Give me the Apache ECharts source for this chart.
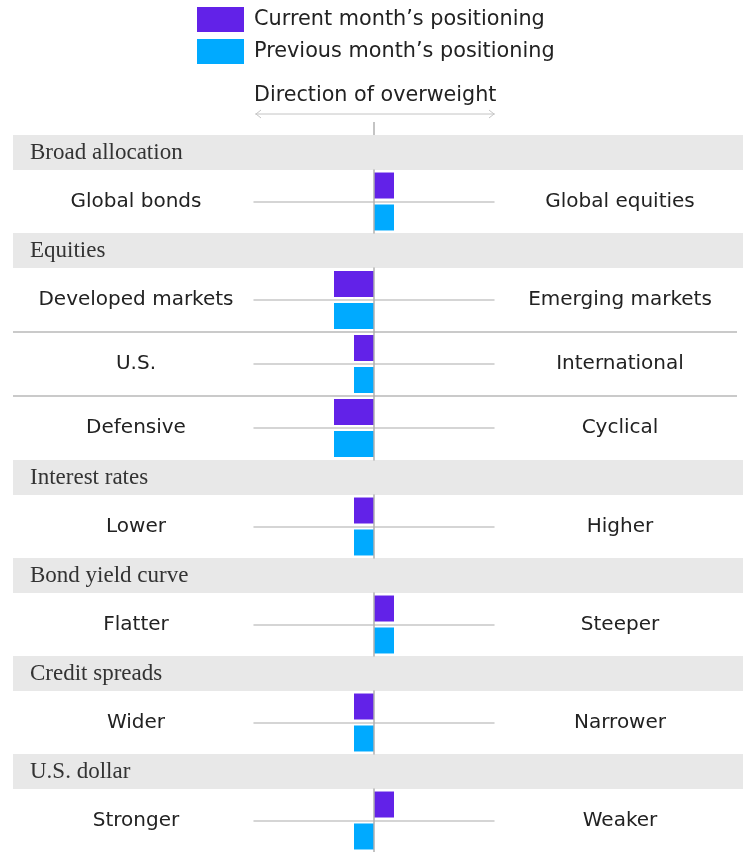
<!DOCTYPE html>
<html>
<head>
<meta charset="utf-8">
<script src="https://cdn.jsdelivr.net/npm/echarts@6/dist/echarts.min.js"></script>
<style>
html,body{margin:0;padding:0;background:#fff}
#main{width:743px;height:852px}
</style>
</head>
<body>
<div id="main"></div>
<script>
// data
var sections = ['Broad allocation', 'Equities', 'Interest rates', 'Bond yield curve', 'Credit spreads', 'U.S. dollar'];
var rowSection = [0, 1, 1, 1, 2, 3, 4, 5];
var leftLabels = ['Global bonds', 'Developed markets', 'U.S.', 'Defensive', 'Lower', 'Flatter', 'Wider', 'Stronger'];
var rightLabels = ['Global equities', 'Emerging markets', 'International', 'Cyclical', 'Higher', 'Steeper', 'Narrower', 'Weaker'];
var current = [1, -2, -1, -2, -1, 1, -1, 1];
var previous = [1, -2, -1, -2, -1, 1, -1, -1];
var seriesNames = ['Current month\u2019s positioning', 'Previous month\u2019s positioning'];

var PURPLE = '#6222e8';
var BLUE = '#00aaff';
var SANS = '"DejaVu Sans", Inter, sans-serif';
var SERIF = '"Liberation Serif", "DejaVu Serif", serif';

var chart = echarts.init(document.getElementById('main'));

var grids = [], xAxes = [], yAxes = [], series = [], graphics = [];
var curY = 135;
var headerH = 35;

// direction arrow under the legend
graphics.push({
  type: 'text', x: 254, y: 96,
  style: { text: 'Direction of overweight', fontSize: 20.7, fontFamily: SANS, fill: '#222', verticalAlign: 'middle' }
});
graphics.push({ type: 'line', shape: { x1: 255, y1: 114, x2: 495, y2: 114 }, style: { stroke: '#c4c4c4', lineWidth: 1 } });
graphics.push({ type: 'polyline', shape: { points: [[261, 110], [256, 114], [261, 118]] }, style: { stroke: '#c4c4c4', lineWidth: 1, fill: null } });
graphics.push({ type: 'polyline', shape: { points: [[489, 110], [494, 114], [489, 118]] }, style: { stroke: '#c4c4c4', lineWidth: 1, fill: null } });
graphics.push({ type: 'line', shape: { x1: 374, y1: 122, x2: 374, y2: 135 }, style: { stroke: '#b0b0b0', lineWidth: 1.5 } });

for (var i = 0; i < leftLabels.length; i++) {
  var sec = rowSection[i];
  if (i === 0 || rowSection[i - 1] !== sec) {
    // section band
    graphics.push({ type: 'rect', shape: { x: 13, y: curY, width: 730, height: headerH }, style: { fill: '#e8e8e8' } });
    graphics.push({
      type: 'text', x: 30, y: curY + headerH / 2,
      style: { text: sections[sec], fontSize: 23, fontFamily: SERIF, fill: '#333', verticalAlign: 'middle' }
    });
    curY += headerH;
  } else {
    // separator between rows of same section
    graphics.push({ type: 'line', shape: { x1: 13, y1: curY, x2: 737, y2: curY }, style: { stroke: '#b8b8b8', lineWidth: 1.5 } });
  }
  var h = sec === 1 ? 64 : 63;

  grids.push({ left: 254, width: 240, top: curY, height: h, containLabel: false, outerBoundsMode: 'none' });
  xAxes.push({
    gridIndex: i, type: 'value', min: -6, max: 6, position: 'bottom', offset: -h / 2,
    axisLine: { show: true, lineStyle: { color: '#c8c8c8', width: 1.5 } },
    axisTick: { show: false }, axisLabel: { show: false }, splitLine: { show: false }
  });
  yAxes.push({
    gridIndex: i, type: 'category', data: [leftLabels[i]], inverse: true, z: 5,
    axisLine: { onZero: true, lineStyle: { color: '#b0b0b0', width: 1.5 } },
    axisTick: { show: false },
    axisLabel: { margin: 118, align: 'center', fontSize: 20, fontFamily: SANS, color: '#222' }
  });
  yAxes.push({
    gridIndex: i, type: 'category', data: [rightLabels[i]], position: 'right',
    axisLine: { show: false, onZero: false }, axisTick: { show: false },
    axisLabel: { margin: 126, align: 'center', fontSize: 20, fontFamily: SANS, color: '#222' }
  });
  series.push({
    type: 'bar', name: seriesNames[0], xAxisIndex: i, yAxisIndex: 2 * i,
    data: [current[i]], barWidth: 26, barGap: '23%', itemStyle: { color: PURPLE }, silent: true
  });
  series.push({
    type: 'bar', name: seriesNames[1], xAxisIndex: i, yAxisIndex: 2 * i,
    data: [previous[i]], barWidth: 26, barGap: '23%', itemStyle: { color: BLUE }, silent: true
  });
  curY += h;
}

var option = {
  animation: false,
  legend: {
    data: seriesNames, orient: 'vertical', left: 197, top: 7, padding: 0,
    itemWidth: 47, itemHeight: 25, itemGap: 7, icon: 'rect', selectedMode: false,
    textStyle: { fontSize: 20.8, fontFamily: SANS, color: '#222', padding: [2, 0, 0, 5] }
  },
  grid: grids,
  xAxis: xAxes,
  yAxis: yAxes,
  series: series,
  graphic: graphics
};
chart.setOption(option);
</script>
</body>
</html>
